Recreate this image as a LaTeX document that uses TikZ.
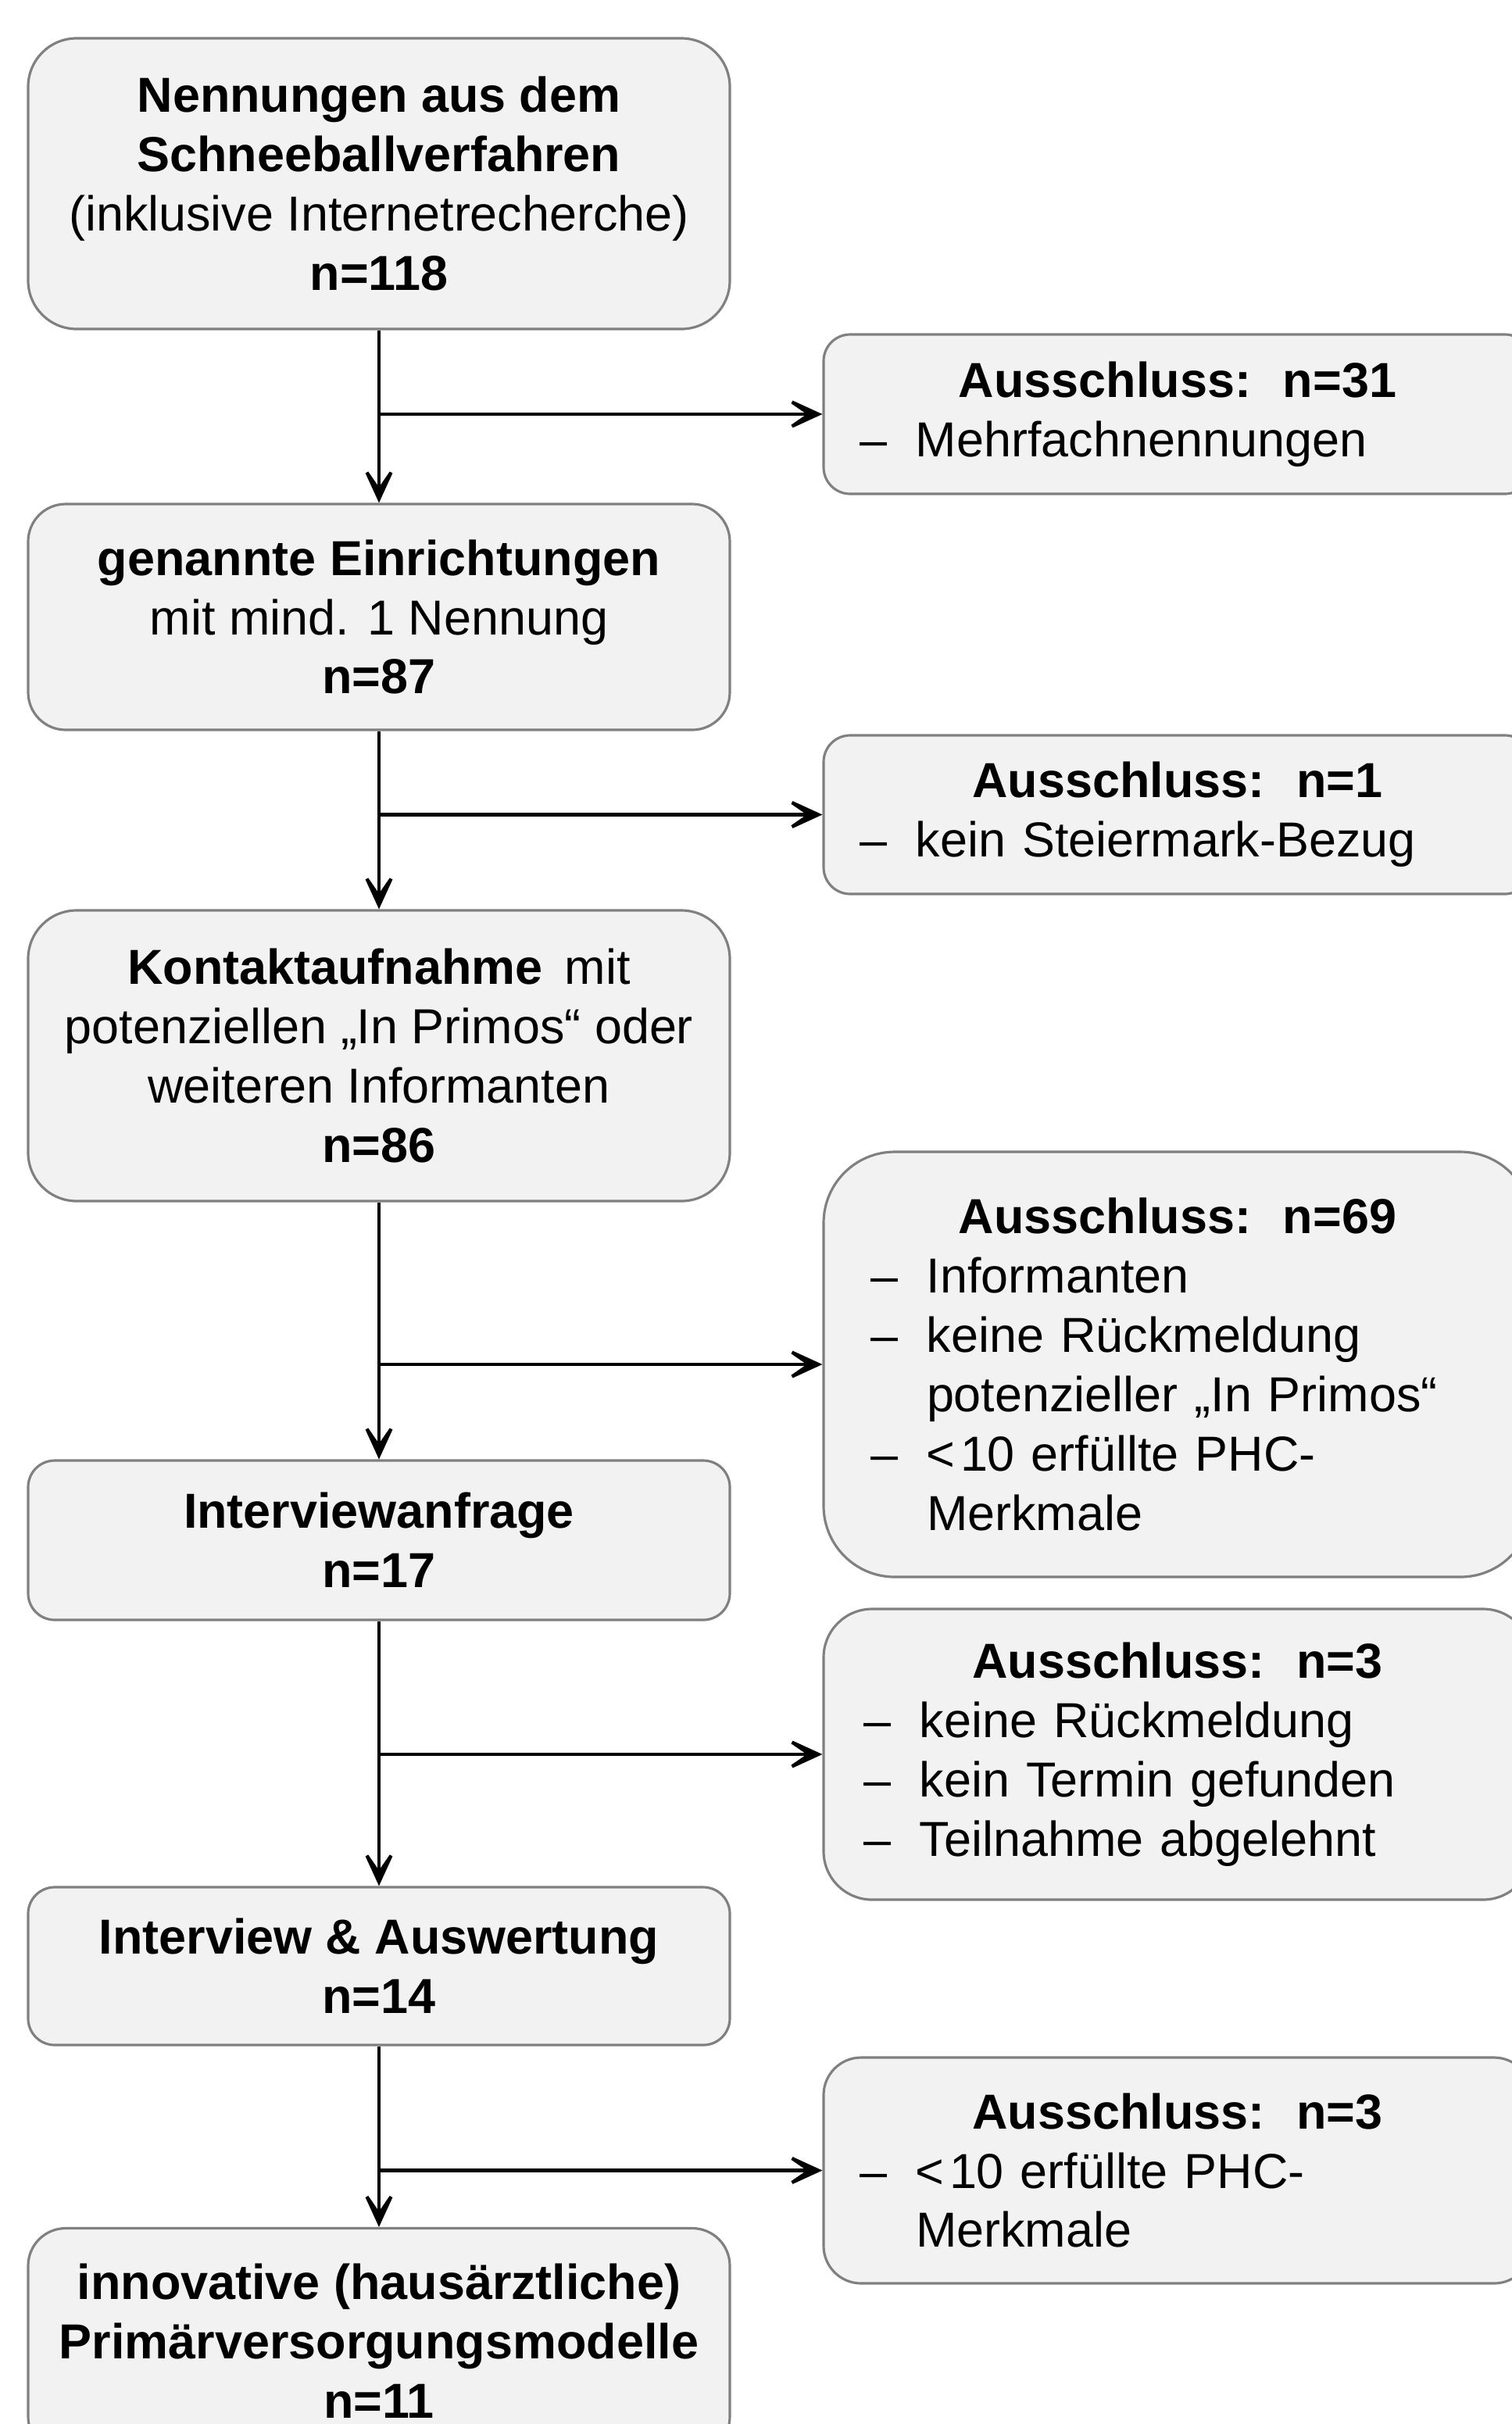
\documentclass[tikz,border=0pt]{standalone}
\usepackage{fontspec}
\setmainfont{Liberation Sans}
\usetikzlibrary{arrows.meta, positioning}
\definecolor{boxfill}{RGB}{242,242,242}
\definecolor{boxline}{RGB}{128,128,128}
% heading and dash items of the exclusion boxes
\newcommand{\xhead}[1]{\makebox[\linewidth][c]{\bfseries Ausschluss:\hspace{0.65em}n=#1}}
\newcommand{\xitem}[2][0.03cm]{\par\hangindent=\dimexpr#1+0.72cm\relax\hangafter=1
  \noindent\hspace*{#1}\makebox[0.72cm][l]{--}#2\par}

\begin{document}
\begin{tikzpicture}[font=\fontsize{17.9}{21.6}\selectfont,
  box/.style={rectangle, draw=boxline, fill=boxfill, line width=0.9pt,
              align=center, minimum width=8.98cm, inner sep=0pt},
  xbox/.style={rectangle, draw=boxline, fill=boxfill, line width=0.9pt,
               align=left, text width=8.2cm, inner xsep=0.43cm, inner ysep=0pt},
  arr/.style={-{Stealth[length=6mm, width=5.5mm, inset=4mm]}, line width=1.2pt}]
\useasboundingbox (0,0) rectangle (19.35,-31.02);
% ---------------- main column (left) ----------------
\node[box, minimum height=3.72cm, rounded corners=6.2mm] (nenn) at (4.85,-2.35)
  {\textbf{Nennungen aus dem}\\ \textbf{Schneeballverfahren}\\
   (inklusive Internetrecherche)\\ \textbf{n=118}};
\node[box, minimum height=2.89cm, rounded corners=4.8mm] (einr) at (4.85,-7.895)
  {\textbf{genannte Einrichtungen}\\ mit mind. 1 Nennung\\ \textbf{n=87}};
\node[box, minimum height=3.72cm, rounded corners=6.2mm] (kont) at (4.85,-13.51)
  {\textbf{Kontaktaufnahme}\hspace{0.45em}mit\\ potenziellen „In Primos“ oder\\
   weiteren Informanten\\ \textbf{n=86}};
\node[box, minimum height=2.04cm, rounded corners=3.4mm] (anfr) at (4.85,-19.71)
  {\textbf{Interviewanfrage}\\ \textbf{n=17}};
\node[box, minimum height=2.02cm, rounded corners=3.4mm] (intv) at (4.85,-25.16)
  {\textbf{Interview \& Auswertung}\\ \textbf{n=14}};
\node[box, minimum height=2.89cm, rounded corners=4.8mm] (modl) at (4.85,-29.96)
  {\textbf{innovative (hausärztliche)}\\ \textbf{Primärversorgungsmodelle}\\
   \textbf{n=11}};
% ---------------- exclusions (right) ----------------
\node[xbox, minimum height=2.04cm, rounded corners=3.4mm] (aus1) at (15.07,-5.3)
  {\xhead{31}\xitem{Mehrfachnennungen}};
\node[xbox, minimum height=2.03cm, rounded corners=3.4mm] (aus2) at (15.07,-10.425)
  {\xhead{1}\xitem{kein Steiermark-Bezug}};
\node[xbox, minimum height=5.44cm, rounded corners=9.1mm] (aus3) at (15.07,-17.46)
  {\xhead{69}\xitem[0.17cm]{Informanten}%
   \xitem[0.17cm]{keine Rückmeldung\newline potenzieller „In Primos“}%
   \xitem[0.17cm]{<\hspace{0.1em}10 erfüllte PHC-\newline Merkmale}};
\node[xbox, minimum height=3.72cm, rounded corners=6.2mm] (aus4) at (15.07,-22.45)
  {\xhead{3}\xitem[0.08cm]{keine Rückmeldung}\xitem[0.08cm]{kein Termin gefunden}%
   \xitem[0.08cm]{Teilnahme abgelehnt}};
\node[xbox, minimum height=2.89cm, rounded corners=4.8mm] (aus5) at (15.07,-27.775)
  {\xhead{3}\xitem{<\hspace{0.1em}10 erfüllte PHC-\newline Merkmale}};
% ---------------- connectors ----------------
\draw[arr] (nenn.south) -- (einr.north);
\draw[arr] (einr.south) -- (kont.north);
\draw[arr] (kont.south) -- (anfr.north);
\draw[arr] (anfr.south) -- (intv.north);
\draw[arr] (intv.south) -- (modl.north);
\draw[arr] (nenn.south |- aus1.west) -- (aus1.west);
\draw[arr] (einr.south |- aus2.west) -- (aus2.west);
\draw[arr] (kont.south |- aus3.west) -- (aus3.west);
\draw[arr] (anfr.south |- aus4.west) -- (aus4.west);
\draw[arr] (intv.south |- aus5.west) -- (aus5.west);
\end{tikzpicture}
\end{document}
